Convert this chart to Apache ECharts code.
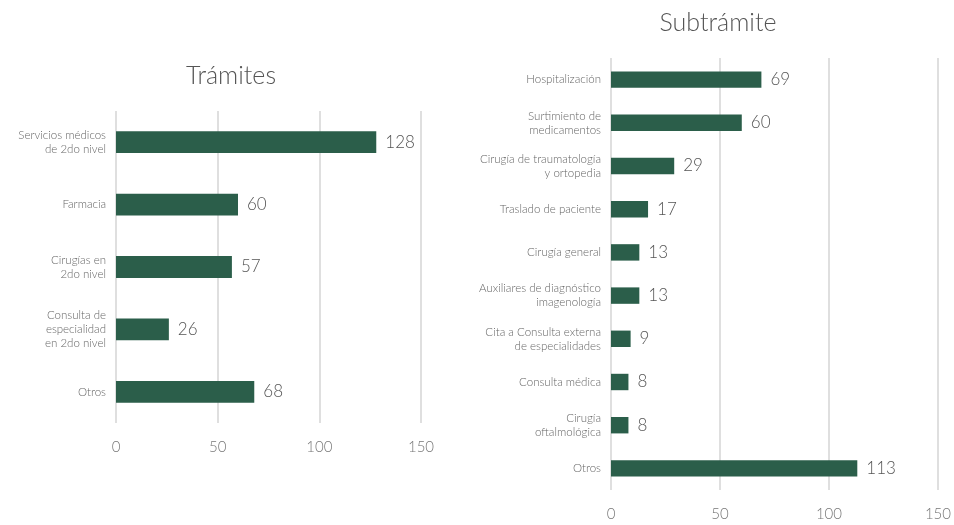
<!DOCTYPE html>
<html>
<head>
<meta charset="utf-8">
<script src="https://cdn.jsdelivr.net/npm/echarts@6/dist/echarts.min.js"></script>
<style>
  html, body { margin: 0; padding: 0; background: #fff; }
  #chart { width: 954px; height: 525px; }
</style>
</head>
<body>
<div id="chart"></div>
<script>
// Trámites (izquierda)
const tramiteCats = [
  "Servicios médicos\nde 2do nivel",
  "Farmacia",
  "Cirugías en\n2do nivel",
  "Consulta de\nespecialidad\nen 2do nivel",
  "Otros"
];
const tramiteVals = [128, 60, 57, 26, 68];

// Subtrámite (derecha)
const subCats = [
  "Hospitalización",
  "Surtimiento de\nmedicamentos",
  "Cirugía de traumatología\ny ortopedia",
  "Traslado de paciente",
  "Cirugía general",
  "Auxiliares de diagnóstico\nimagenología",
  "Cita a Consulta externa\nde especialidades",
  "Consulta médica",
  "Cirugía\noftalmológica",
  "Otros"
];
const subVals = [69, 60, 29, 17, 13, 13, 9, 8, 8, 113];

const xTicks = [0, 50, 100, 150];

const font = "Lato, 'Open Sans', sans-serif";
const green = "#2b5e4a";

function valueAxis(gridIndex) {
  return {
    type: "value",
    gridIndex: gridIndex,
    min: xTicks[0],
    max: xTicks[xTicks.length - 1],
    interval: xTicks[1] - xTicks[0],
    axisLine: { show: false },
    axisTick: { show: false },
    splitLine: { lineStyle: { color: "#d4d4d4", width: 1.5 } },
    axisLabel: { color: "#777", fontSize: 15, fontFamily: font, fontWeight: 300, margin: 17 }
  };
}

function catAxis(gridIndex, cats) {
  return {
    type: "category",
    gridIndex: gridIndex,
    data: cats,
    inverse: true,
    axisLine: { show: false },
    axisTick: { show: false },
    axisLabel: { color: "#666", fontSize: 11.5, fontFamily: font, fontWeight: 300, lineHeight: 14, margin: 10 }
  };
}

function barLabel() {
  return {
    show: true,
    position: "right",
    distance: 9,
    color: "#555",
    fontSize: 17,
    fontFamily: font,
    fontWeight: 300
  };
}

const chart = echarts.init(document.getElementById("chart"));
chart.setOption({
  animation: false,
  title: [
    {
      text: "Trámites",
      left: 226, top: 58, textAlign: "center",
      textStyle: { color: "#555", fontSize: 25, fontWeight: 300, fontFamily: font }
    },
    {
      text: "Subtrámite",
      left: 713, top: 5, textAlign: "center",
      textStyle: { color: "#555", fontSize: 25, fontWeight: 300, fontFamily: font }
    }
  ],
  grid: [
    { left: 116, right: 533, top: 111, height: 312 },
    { left: 611, right: 14, top: 58, height: 432 }
  ],
  xAxis: [valueAxis(0), valueAxis(1)],
  yAxis: [catAxis(0, tramiteCats), catAxis(1, subCats)],
  series: [
    {
      type: "bar",
      xAxisIndex: 0, yAxisIndex: 0,
      data: tramiteVals,
      barWidth: "35%",
      itemStyle: { color: green },
      label: barLabel()
    },
    {
      type: "bar",
      xAxisIndex: 1, yAxisIndex: 1,
      data: subVals,
      barWidth: "38%",
      itemStyle: { color: green },
      label: barLabel()
    }
  ]
});
</script>
</body>
</html>
